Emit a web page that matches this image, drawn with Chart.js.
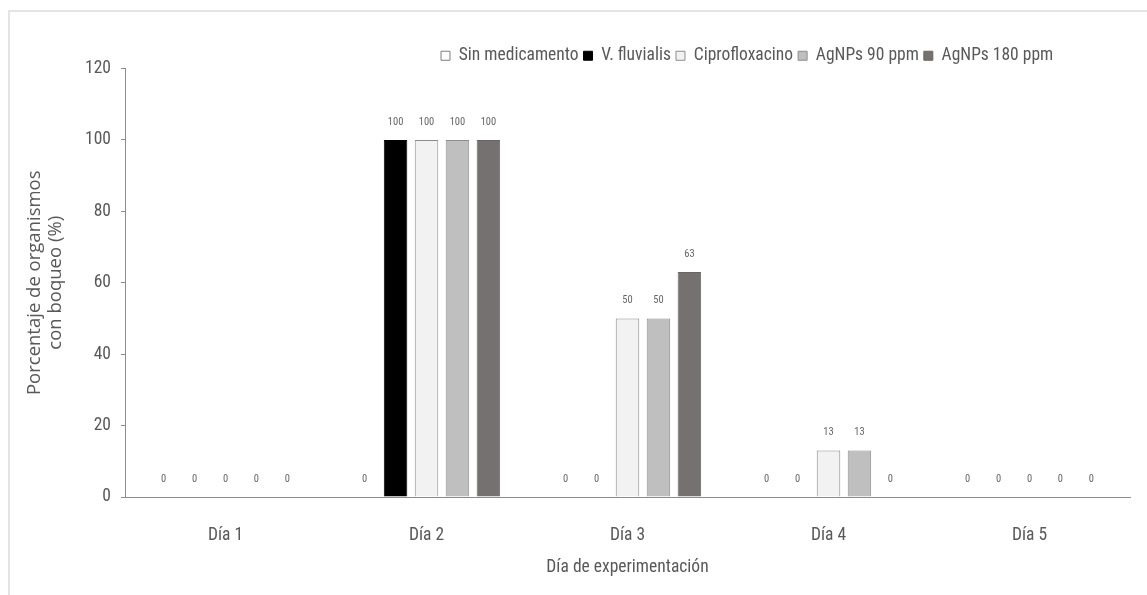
<!DOCTYPE html>
<html lang="es">
<head>
<meta charset="utf-8">
<title>Porcentaje de organismos con boqueo</title>
<script src="https://cdn.jsdelivr.net/npm/chart.js@4.4.1/dist/chart.umd.min.js"></script>
<style>
  html, body { margin: 0; padding: 0; background: #ffffff; }
  body { width: 1147px; height: 595px; position: relative; overflow: hidden; }
  .frame {
    position: absolute; left: 8px; top: 10px; right: 0; bottom: 0;
    border-top: 2px solid #e4e4e4; border-left: 2px solid #e4e4e4;
  }
  .wrap { position: absolute; left: 0; top: 0; width: 1147px; height: 595px; }
</style>
</head>
<body>
<div class="frame"></div>
<div class="wrap"><canvas id="chart" width="1147" height="595"></canvas></div>
<script>
// Days of the experiment
const days = ['Día 1', 'Día 2', 'Día 3', 'Día 4', 'Día 5'];

// Percentage of organisms showing gasping, per treatment
const sinMedicamento = [0, 0, 0, 0, 0];
const vFluvialis     = [0, 100, 0, 0, 0];
const ciprofloxacino = [0, 100, 50, 13, 0];
const agnps90        = [0, 100, 50, 13, 0];
const agnps180       = [0, 100, 63, 0, 0];

// Value axis ticks
const yTicks = [0, 20, 40, 60, 80, 100, 120];

const narrow = "'Roboto Condensed', 'DejaVu Sans Condensed', sans-serif";
const textGray = '#595959';

// Writes each bar's value above it
const valueLabels = {
  id: 'valueLabels',
  afterDatasetsDraw(chart) {
    const ctx = chart.ctx;
    ctx.save();
    ctx.font = '10.5px ' + narrow;
    ctx.fillStyle = '#666666';
    ctx.textAlign = 'center';
    ctx.textBaseline = 'middle';
    chart.data.datasets.forEach((ds, i) => {
      const meta = chart.getDatasetMeta(i);
      if (meta.hidden) return;
      meta.data.forEach((bar, j) => {
        ctx.fillText(String(ds.data[j]), bar.x, bar.y - 18);
      });
    });
    ctx.restore();
  }
};

// Places the legend row over the right part of the plot
const legendPlacement = {
  id: 'legendPlacement',
  afterLayout(chart) {
    const lg = chart.legend;
    if (!lg) return;
    lg.left = 436;
    lg.top = 42;
  }
};

new Chart(document.getElementById('chart'), {
  type: 'bar',
  data: {
    labels: days,
    datasets: [
      { label: 'Sin medicamento', data: sinMedicamento, backgroundColor: '#ffffff', borderColor: '#7f7f7f', borderWidth: 1 },
      { label: 'V. fluvialis', data: vFluvialis, backgroundColor: '#000000', borderColor: '#000000', borderWidth: 1 },
      { label: 'Ciprofloxacino', data: ciprofloxacino, backgroundColor: '#f2f2f2', borderColor: '#8c8c8c', borderWidth: 1 },
      { label: 'AgNPs 90 ppm', data: agnps90, backgroundColor: '#bfbfbf', borderColor: '#8c8c8c', borderWidth: 1 },
      { label: 'AgNPs 180 ppm', data: agnps180, backgroundColor: '#767171', borderColor: '#6a6565', borderWidth: 1 }
    ]
  },
  options: {
    responsive: false,
    animation: false,
    datasets: {
      bar: { categoryPercentage: 0.77, barPercentage: 0.76, borderSkipped: 'start' }
    },
    layout: { padding: { left: 25, right: 17, top: 36, bottom: 0 } },
    plugins: {
      tooltip: { enabled: false },
      legend: {
        position: 'top',
        align: 'start',
        labels: {
          font: { family: narrow, size: 17.5 },
          color: textGray,
          boxWidth: 9,
          boxHeight: 9,
          padding: 5
        }
      }
    },
    scales: {
      x: {
        grid: { display: false },
        border: { display: true, color: '#8c8c8c', width: 1 },
        ticks: { font: { family: narrow, size: 17.5 }, color: textGray, padding: 20 },
        title: {
          display: true,
          text: 'Día de experimentación',
          font: { family: narrow, size: 17.5 },
          color: textGray,
          padding: { top: 0, bottom: 17 }
        },
        afterFit(scale) { scale.height = 98; }
      },
      y: {
        min: 0,
        max: 120,
        afterBuildTicks(scale) { scale.ticks = yTicks.map(v => ({ value: v })); },
        grid: { drawOnChartArea: false, drawTicks: true, tickLength: 4, color: '#8c8c8c' },
        border: { display: true, color: '#8c8c8c', width: 1 },
        ticks: { font: { family: narrow, size: 17.5 }, color: textGray, padding: 10 },
        title: {
          display: true,
          text: ['Porcentaje de organismos', 'con boqueo (%)'],
          font: { family: "'Open Sans', sans-serif", size: 18.5, lineHeight: 1.1 },
          color: textGray,
          padding: { top: 0, bottom: 0 }
        },
        afterFit(scale) { scale.width = 100; }
      }
    }
  },
  plugins: [valueLabels, legendPlacement]
});
</script>
</body>
</html>
